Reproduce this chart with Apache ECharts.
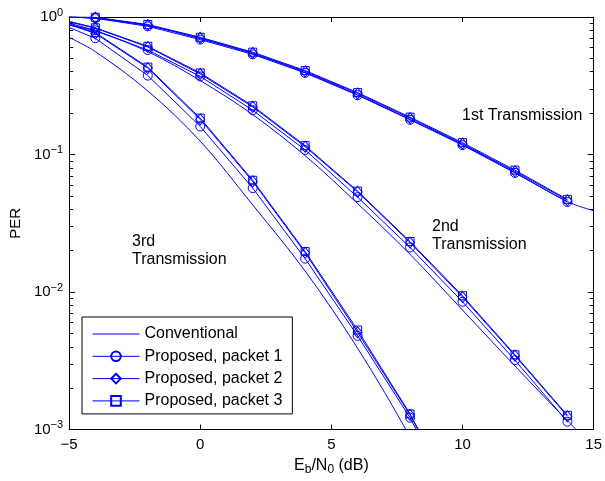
<!DOCTYPE html>
<html><head><meta charset="utf-8">
<script src="https://cdn.jsdelivr.net/npm/echarts@6/dist/echarts.min.js"></script>
<style>html,body{margin:0;padding:0;background:#fff}#c{width:605px;height:481px}</style>
</head><body><div id="c"></div>
<script>
// Eb/N0 grid (dB)
const convX = [-5, -4, -2, 0, 2, 4, 6, 8, 10, 12, 14, 15];
const propX = [-5, -4, -2, 0, 2, 4, 6, 8, 10, 12, 14];
// Conventional (smooth curves)
const conv1 = [1.0, 0.975, 0.865, 0.695, 0.54, 0.395, 0.272, 0.18, 0.118, 0.074, 0.0455, 0.039];
const conv2 = [0.87, 0.79, 0.56, 0.345, 0.195, 0.098, 0.044, 0.0188, 0.0074, 0.0029, 0.00116, 0.00075];
const conv3 = [0.71, 0.56, 0.29, 0.125, 0.043, 0.0142, 0.0039, 0.00088, 0.00016];
// Proposed, 1st transmission
const p1t1 = [1.0, 0.98, 0.855, 0.685, 0.535, 0.392, 0.27, 0.179, 0.117, 0.0735, 0.0452];
const p2t1 = [1.0, 0.99, 0.875, 0.705, 0.548, 0.402, 0.278, 0.184, 0.12, 0.0755, 0.0465];
const p3t1 = [1.0, 0.995, 0.882, 0.712, 0.555, 0.408, 0.282, 0.187, 0.122, 0.077, 0.0472];
// Proposed, 2nd transmission
const p1t2 = [0.9, 0.80, 0.575, 0.37, 0.21, 0.108, 0.049, 0.0211, 0.0085, 0.0032, 0.00114];
const p2t2 = [0.92, 0.83, 0.605, 0.385, 0.222, 0.114, 0.0535, 0.0229, 0.0092, 0.00345, 0.00125];
const p3t2 = [0.93, 0.835, 0.612, 0.392, 0.226, 0.116, 0.0542, 0.0233, 0.0094, 0.0035, 0.00127];
// Proposed, 3rd transmission
const p1t3 = [0.84, 0.70, 0.375, 0.16, 0.057, 0.0175, 0.0048, 0.00122, 0.00022];
const p2t3 = [0.88, 0.76, 0.425, 0.18, 0.0638, 0.0193, 0.0051, 0.00128, 0.00024];
const p3t3 = [0.89, 0.77, 0.432, 0.184, 0.065, 0.0197, 0.0053, 0.0013, 0.00025];

// minor tick values of the log axis
const minorTickValues = [
  0.002, 0.003, 0.004, 0.005, 0.006, 0.007, 0.008, 0.009,
  0.02, 0.03, 0.04, 0.05, 0.06, 0.07, 0.08, 0.09,
  0.2, 0.3, 0.4, 0.5, 0.6, 0.7, 0.8, 0.9
];
const names = ['Conventional', 'Proposed, packet 1', 'Proposed, packet 2', 'Proposed, packet 3'];
const annotations = ['1st Transmission', '2nd\nTransmission', '3rd\nTransmission'];

const FF = '"Liberation Sans", Arial, Helvetica, sans-serif';
const BLUE = '#0000ff';
const CLEAR = 'rgba(255,255,255,0)';
const symbolFor = { 1: ['circle', 9], 2: ['diamond', [9, 11]], 3: ['rect', 8] };

function convSeries(ys) {
  return {
    name: names[0], type: 'line', smooth: 0.35, showSymbol: false, symbol: 'circle', symbolSize: 1,
    clip: true, lineStyle: { color: BLUE, width: 1 },
    itemStyle: { color: CLEAR, borderColor: CLEAR, borderWidth: 0 },
    data: ys.map((y, i) => [convX[i], y])
  };
}
function propSeries(k, ys) {
  const s = symbolFor[k];
  return {
    name: names[k], type: 'line', symbol: s[0], symbolSize: s[1], showAllSymbol: true,
    clip: true, lineStyle: { color: BLUE, width: 1 },
    itemStyle: { color: CLEAR, borderColor: BLUE, borderWidth: 1 },
    data: ys.map((y, i) => propX[i] === -5 ? { value: [propX[i], y], symbol: 'none' } : [propX[i], y])
  };
}

const axisLine = { show: true, onZero: false, lineStyle: { color: '#000', width: 1 } };
const tickStyle = { color: '#000', width: 1 };
const yLabelFmt = v => { const e = Math.round(Math.log10(v)); return '{b|10}{s|' + (e < 0 ? '\u2212' + (-e) : e) + '}'; };

// linear axis in log10 units carrying only the minor tick marks of the log axis
function minorAxis(pos) {
  return {
    type: 'value', min: -3, max: 0, position: pos,
    axisLine: { show: false, onZero: false }, splitLine: { show: false },
    axisTick: { show: true, inside: true, length: 4, lineStyle: tickStyle,
      customValues: minorTickValues.map(v => Math.log10(v)) },
    axisLabel: { show: false }
  };
}

const chart = echarts.init(document.getElementById('c'), null, { renderer: 'canvas' });
chart.setOption({
  animation: false,
  backgroundColor: '#fff',
  grid: { left: 67, right: 10, top: 17, bottom: 48 },
  xAxis: [{
    type: 'value', min: -5, max: 15, interval: 5, position: 'bottom',
    axisLine, splitLine: { show: false },
    axisTick: { inside: true, length: 5, lineStyle: tickStyle },
    axisLabel: { fontSize: 15, fontFamily: FF, color: '#000', margin: 8,
      formatter: v => (v < 0 ? '\u2212' + (-v) : '' + v) },
    name: '{n|E}{sub|b}{n|/N}{sub|0}{n| (dB)}', nameLocation: 'middle', nameGap: 23,
    nameTextStyle: { rich: {
      n: { fontSize: 16, fontFamily: FF, color: '#000' },
      sub: { fontSize: 12, fontFamily: FF, color: '#000', padding: [9, 0, 0, 0] }
    } }
  }, {
    type: 'value', min: -5, max: 15, interval: 5, position: 'top',
    axisLine, splitLine: { show: false },
    axisTick: { inside: true, length: 5, lineStyle: tickStyle },
    axisLabel: { show: false }
  }],
  yAxis: [{
    type: 'log', logBase: 10, min: 0.001, max: 1, position: 'left',
    axisLine, splitLine: { show: false },
    axisTick: { inside: true, length: 6, lineStyle: tickStyle },
    axisLabel: { margin: 6, formatter: yLabelFmt, rich: {
      b: { fontSize: 15, fontFamily: FF, color: '#000' },
      s: { fontSize: 11, fontFamily: FF, color: '#000', padding: [0, 0, 9, 0] }
    } },
    name: 'PER', nameLocation: 'middle', nameGap: 46,
    nameTextStyle: { fontSize: 15, fontFamily: FF, color: '#000' }
  }, {
    type: 'log', logBase: 10, min: 0.001, max: 1, position: 'right',
    axisLine, splitLine: { show: false },
    axisTick: { inside: true, length: 6, lineStyle: tickStyle },
    axisLabel: { show: false }
  }, minorAxis('left'), minorAxis('right')],
  legend: {
    orient: 'vertical', left: 82, top: 317,
    data: names, itemWidth: 47, itemHeight: 12, itemGap: 6.3,
    padding: [9, 10, 5, 10], borderColor: '#000', borderWidth: 1, backgroundColor: '#fff',
    textStyle: { fontSize: 16, fontFamily: FF, color: '#000', lineHeight: 16 },
    lineStyle: { width: 1 },
    selectedMode: false
  },
  graphic: [
    { type: 'text', left: 462, top: 108, style: { text: annotations[0], font: '16px ' + FF, fill: '#000' } },
    { type: 'text', left: 432, top: 217, style: { text: annotations[1], font: '16px ' + FF, fill: '#000', lineHeight: 18.3 } },
    { type: 'text', left: 132, top: 232, style: { text: annotations[2], font: '16px ' + FF, fill: '#000', lineHeight: 18.3 } }
  ],
  series: [
    convSeries(conv1), convSeries(conv2), convSeries(conv3),
    propSeries(1, p1t1), propSeries(2, p2t1), propSeries(3, p3t1),
    propSeries(1, p1t2), propSeries(2, p2t2), propSeries(3, p3t2),
    propSeries(1, p1t3), propSeries(2, p2t3), propSeries(3, p3t3)
  ]
});
</script></body></html>
